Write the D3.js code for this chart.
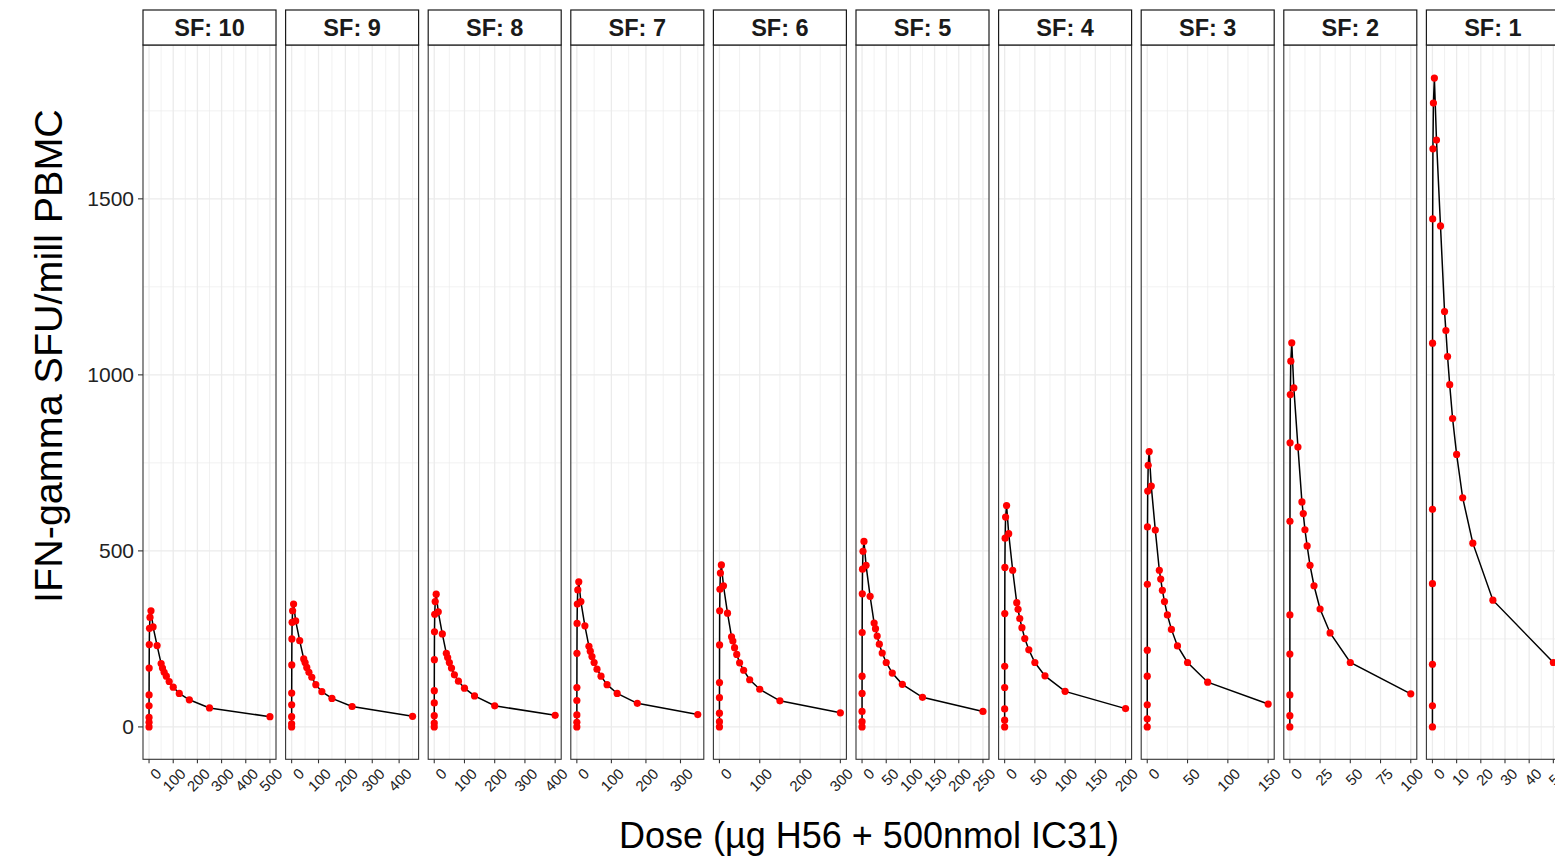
<!DOCTYPE html>
<html><head><meta charset="utf-8">
<script src="https://cdn.jsdelivr.net/npm/d3@7"></script>
<style>body{margin:0;background:#fff;overflow:hidden} svg{display:block;font-family:"Liberation Sans",Arial,sans-serif}</style>
</head><body><svg id="c" width="1555" height="857"></svg>
<script>
// ---- data ----
const panelLabels = ["SF: 10","SF: 9","SF: 8","SF: 7","SF: 6","SF: 5","SF: 4","SF: 3","SF: 2","SF: 1"];
const xMax = [500,450,400,350,300,250,200,150,100,50];
const xTicks_SF10 = [0,100,200,300,400,500];
const xTicks_SF9  = [0,100,200,300,400];
const xTicks_SF8  = [0,100,200,300,400];
const xTicks_SF7  = [0,100,200,300];
const xTicks_SF6  = [0,100,200,300];
const xTicks_SF5  = [0,50,100,150,200,250];
const xTicks_SF4  = [0,50,100,150,200];
const xTicks_SF3  = [0,50,100,150];
const xTicks_SF2  = [0,25,50,75,100];
const xTicks_SF1  = [0,10,20,30,40,50];
const yTicks = [0,500,1000,1500];

const dose_SF10 = [0,0.02,0.05,0.1,0.2,0.5,1,2,4,8,16.7,33.3,50,55.6,62.5,71.4,83.3,100,125,166.7,250,500];
const sfu_SF10  = [0,13,27,60,91,167,234,280,311,330,284,231,180,167,155,144,129,113,95,77,54,29];
const dose_SF9  = [0,0.018,0.045,0.09,0.18,0.45,0.9,1.8,3.6,7.2,15,30,45,50,56.3,64.3,75,90,112.5,150,225,450];
const sfu_SF9   = [0,9,29,63,96,176,250,297,330,349,301,245,193,183,169,155,141,120,100,81,58,30];
const dose_SF8  = [0,0.016,0.04,0.08,0.16,0.4,0.8,1.6,3.2,6.4,13.3,26.7,40,44.4,50,57.1,66.7,80,100,133.3,200,400];
const sfu_SF8   = [0,11,32,68,103,191,270,320,356,377,327,264,209,197,183,167,148,130,110,88,60,33];
const dose_SF7  = [0,0.014,0.035,0.07,0.14,0.35,0.7,1.4,2.8,5.6,11.7,23.3,35,38.9,43.8,50,58.3,70,87.5,116.7,175,350];
const sfu_SF7   = [0,13,34,75,112,209,294,349,389,412,356,287,229,215,200,183,164,144,120,95,67,35];
const dose_SF6  = [0,0.012,0.03,0.06,0.12,0.3,0.6,1.2,2.4,4.8,10,20,30,33.3,37.5,42.9,50,60,75,100,150,300];
const sfu_SF6   = [0,15,39,83,126,233,330,391,437,460,401,323,256,244,225,206,182,161,134,107,74,40];
const dose_SF5  = [0,0.01,0.025,0.05,0.1,0.25,0.5,1,2,4,8.3,16.7,25,27.8,31.3,35.7,41.7,50,62.5,83.3,125,250];
const sfu_SF5   = [0,15,44,95,144,268,378,448,499,527,459,371,295,279,258,235,210,183,153,121,84,44];
const dose_SF4  = [0,0.008,0.02,0.04,0.08,0.2,0.4,0.8,1.6,3.2,6.7,13.3,20,22.2,25,28.6,33.3,40,50,66.7,100,200];
const sfu_SF4   = [0,19,51,112,172,322,453,536,596,629,549,445,353,334,308,282,251,219,183,145,101,52];
const dose_SF3  = [0,0.006,0.015,0.03,0.06,0.15,0.3,0.6,1.2,2.4,5,10,15,16.7,18.8,21.4,25,30,37.5,50,75,150];
const sfu_SF3   = [0,23,63,144,218,405,568,670,743,782,684,559,445,420,388,356,318,277,230,183,127,65];
const dose_SF2  = [0,0.004,0.01,0.02,0.04,0.1,0.2,0.4,0.8,1.6,3.3,6.7,10,11.1,12.5,14.3,16.7,20,25,33.3,50,100];
const sfu_SF2   = [0,32,91,207,318,584,807,944,1039,1091,963,795,639,606,560,514,459,401,335,267,183,94];
const dose_SF1  = [0,0.002,0.005,0.01,0.02,0.05,0.1,0.2,0.4,0.8,1.67,3.33,5,5.56,6.25,7.14,8.33,10,12.5,16.7,25,50];
const sfu_SF1   = [0,60,178,407,618,1090,1443,1642,1772,1843,1667,1423,1180,1126,1052,972,876,774,651,522,360,183];

const doses = [dose_SF10,dose_SF9,dose_SF8,dose_SF7,dose_SF6,dose_SF5,dose_SF4,dose_SF3,dose_SF2,dose_SF1];
const sfus  = [sfu_SF10,sfu_SF9,sfu_SF8,sfu_SF7,sfu_SF6,sfu_SF5,sfu_SF4,sfu_SF3,sfu_SF2,sfu_SF1];
const xTicks = [xTicks_SF10,xTicks_SF9,xTicks_SF8,xTicks_SF7,xTicks_SF6,xTicks_SF5,xTicks_SF4,xTicks_SF3,xTicks_SF2,xTicks_SF1];

// ---- layout ----
const svg = d3.select("#c");
const stripTop = 10, panelTop = 45, panelBottom = 759.3;
const band = d3.scaleBand().domain(panelLabels).range([143, 1559.4]).paddingInner(0.0673).paddingOuter(0);
const pw = band.bandwidth();
const y = d3.scaleLinear().domain([-92, 1937]).range([panelBottom, panelTop]);
const yMinor = [250,750,1250,1750];
const gridCol = "#EBEBEB";

panelLabels.forEach((lab, i) => {
  const left = band(lab);
  const m = xMax[i];
  const x = d3.scaleLinear().domain([-0.05*m, 1.05*m]).range([left, left + pw]);
  const g = svg.append("g");
  const ticks = xTicks[i];
  const step = ticks[1] - ticks[0];
  const minors = ticks.map(t => t + step/2).filter(v => v < 1.05*m);
  // grid
  g.selectAll(".ymin").data(yMinor).join("line")
    .attr("x1", left).attr("x2", left+pw).attr("y1", d=>y(d)).attr("y2", d=>y(d))
    .attr("stroke", gridCol).attr("stroke-width", 0.7);
  g.selectAll(".xmin").data(minors).join("line")
    .attr("y1", panelTop).attr("y2", panelBottom).attr("x1", d=>x(d)).attr("x2", d=>x(d))
    .attr("stroke", gridCol).attr("stroke-width", 0.7);
  g.selectAll(".ymaj").data(yTicks).join("line")
    .attr("x1", left).attr("x2", left+pw).attr("y1", d=>y(d)).attr("y2", d=>y(d))
    .attr("stroke", gridCol).attr("stroke-width", 1.3);
  g.selectAll(".xmaj").data(ticks).join("line")
    .attr("y1", panelTop).attr("y2", panelBottom).attr("x1", d=>x(d)).attr("x2", d=>x(d))
    .attr("stroke", gridCol).attr("stroke-width", 1.3);
  // line & points
  const pts = doses[i].map((d, k) => [d, sfus[i][k]]);
  g.append("path").datum(pts)
    .attr("d", d3.line().x(d=>x(d[0])).y(d=>y(d[1])))
    .attr("fill","none").attr("stroke","#000").attr("stroke-width",1.5);
  g.selectAll("circle").data(pts).join("circle")
    .attr("cx", d=>x(d[0])).attr("cy", d=>y(d[1])).attr("r", 3.6).attr("fill", "#FF0000");
  // panel border
  g.append("rect").attr("x", left).attr("y", panelTop).attr("width", pw).attr("height", panelBottom-panelTop)
    .attr("fill","none").attr("stroke","#333").attr("stroke-width",1.1);
  // strip
  g.append("rect").attr("x", left).attr("y", stripTop).attr("width", pw).attr("height", panelTop-stripTop)
    .attr("fill","#fff").attr("stroke","#1a1a1a").attr("stroke-width",1.2);
  g.append("text").attr("x", left + pw/2).attr("y", 36)
    .attr("text-anchor","middle").attr("font-size", 23.5).attr("font-weight","bold").attr("fill","#1a1a1a").text(lab);
  // x axis ticks
  const ax = g.append("g").attr("transform", `translate(0,${panelBottom})`);
  ax.selectAll("line").data(ticks).join("line")
    .attr("x1", d=>x(d)).attr("x2", d=>x(d)).attr("y1", 0).attr("y2", 4)
    .attr("stroke","#333").attr("stroke-width",1.1);
  ax.selectAll("text").data(ticks).join("text")
    .attr("transform", d => `translate(${x(d)+6},${8}) rotate(-45)`)
    .attr("text-anchor","end").attr("dy","0.7em").attr("font-size", 15).attr("fill","#222")
    .text(d => d);
});

// y axis on first panel
const ya = svg.append("g");
ya.selectAll("line").data(yTicks).join("line")
  .attr("x1", 138).attr("x2", 143).attr("y1", d=>y(d)).attr("y2", d=>y(d))
  .attr("stroke","#333").attr("stroke-width",1.1);
ya.selectAll("text").data(yTicks).join("text")
  .attr("x", 134).attr("y", d=>y(d)).attr("dy","0.36em").attr("text-anchor","end")
  .attr("font-size", 21).attr("fill","#222").text(d=>d);

// titles
svg.append("text").attr("x", 869).attr("y", 848).attr("text-anchor","middle")
  .attr("font-size", 36).attr("fill","#000").text("Dose (µg H56 + 500nmol IC31)");
svg.append("text").attr("transform","translate(62,356) rotate(-90)").attr("text-anchor","middle")
  .attr("font-size", 39.5).attr("fill","#000").text("IFN-gamma SFU/mill PBMC");
</script></body></html>
